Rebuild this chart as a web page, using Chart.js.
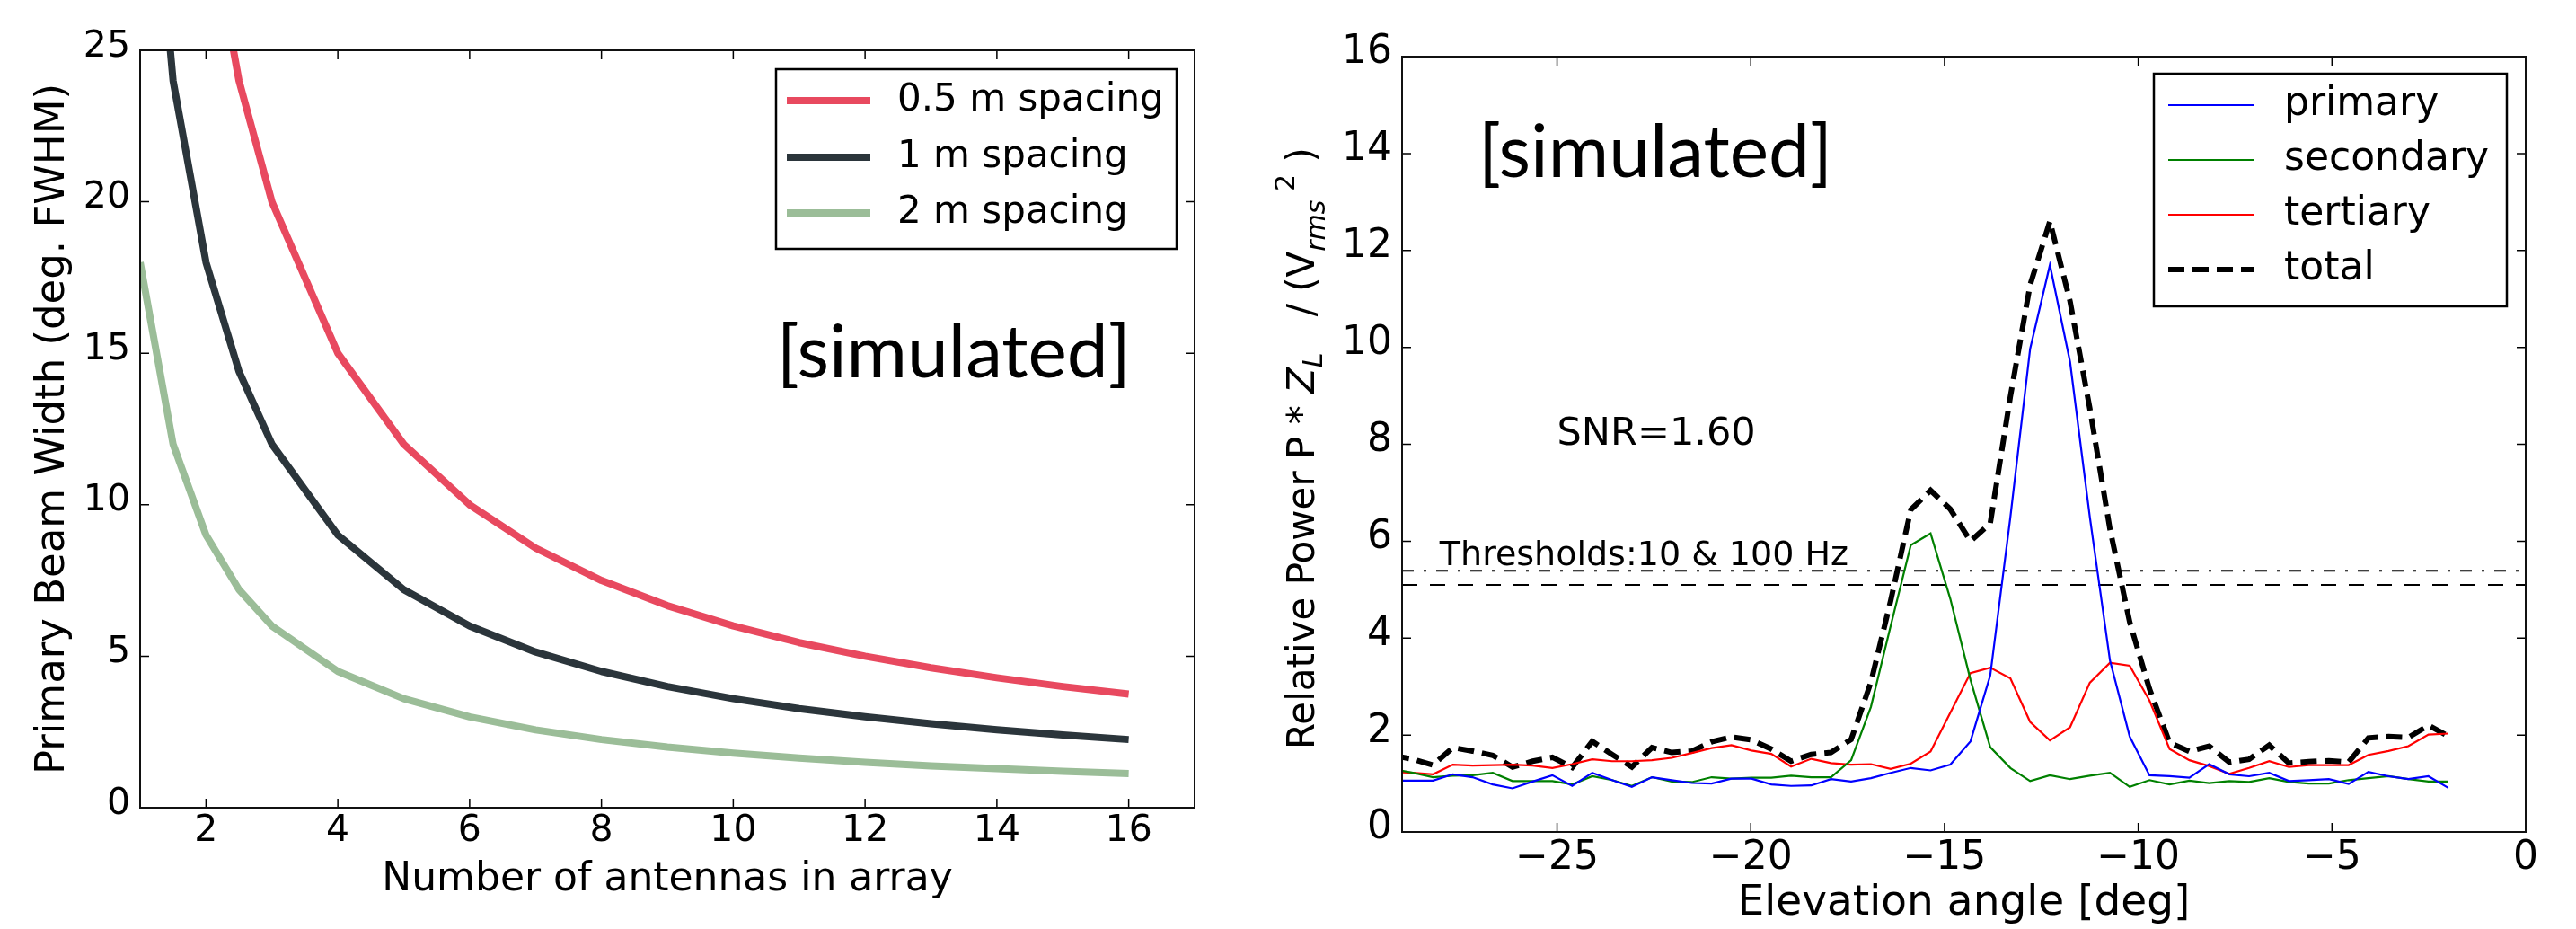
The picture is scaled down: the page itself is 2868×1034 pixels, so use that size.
<!DOCTYPE html>
<html><head><meta charset="utf-8">
<script src="https://cdn.jsdelivr.net/npm/chart.js@4.4.0/dist/chart.umd.min.js"></script>
<style>
html,body{margin:0;padding:0;background:#fff;width:2868px;height:1034px;overflow:hidden;}
#c1{position:absolute;left:0;top:0;}
#c2{position:absolute;left:1400px;top:0;}
</style></head><body>
<canvas id="c1" width="1400" height="1034"></canvas>
<canvas id="c2" width="1468" height="1034"></canvas>
<script>
// ---------- Left panel data ----------
const antennas = [1,1.5,2,2.5,3,4,5,6,7,8,9,10,11,12,13,14,15,16];
const spacing05 = [60,40,30,24,20,15,12,10,8.57,7.5,6.67,6,5.45,5,4.62,4.29,4,3.75];
const spacing1  = [36,24,18,14.4,12,9,7.2,6,5.14,4.5,4,3.6,3.27,3,2.77,2.57,2.4,2.25];
const spacing2  = [18,12,9,7.2,6,4.5,3.6,3,2.57,2.25,2,1.8,1.64,1.5,1.38,1.29,1.2,1.13];
const leftLabels = ['0.5 m spacing','1 m spacing','2 m spacing'];
const leftXTicks = [2,4,6,8,10,12,14,16];
const leftYTicks = [0,5,10,15,20,25];

// ---------- Right panel data ----------
const elevation = [-29.23,-28.72,-28.20,-27.69,-27.18,-26.66,-26.15,-25.63,-25.12,-24.61,
  -24.09,-23.58,-23.07,-22.55,-22.04,-21.52,-21.01,-20.50,-19.98,-19.47,
  -18.96,-18.44,-17.93,-17.41,-16.90,-16.39,-15.87,-15.36,-14.85,-14.33,
  -13.82,-13.30,-12.79,-12.28,-11.76,-11.25,-10.73,-10.22,-9.71,-9.19,
  -8.68,-8.17,-7.65,-7.14,-6.62,-6.11,-5.60,-5.08,-4.57,-4.06,
  -3.54,-3.03,-2.51,-2.00];
const primary = [1.06,1.06,1.06,1.19,1.13,0.98,0.90,1.04,1.17,0.95,
  1.22,1.07,0.93,1.13,1.07,1.01,1.00,1.10,1.10,0.98,
  0.95,0.96,1.09,1.04,1.11,1.22,1.32,1.27,1.39,1.87,
  3.23,6.5,9.97,11.7,9.7,6.5,3.54,1.97,1.17,1.15,
  1.12,1.40,1.19,1.15,1.22,1.05,1.07,1.09,0.99,1.24,
  1.15,1.09,1.15,0.91];
const secondary = [1.30,1.22,1.13,1.16,1.17,1.22,1.05,1.05,1.05,0.98,
  1.15,1.07,0.95,1.13,1.04,1.03,1.13,1.10,1.12,1.12,
  1.16,1.13,1.13,1.48,2.58,4.25,5.92,6.16,4.81,3.14,
  1.75,1.32,1.05,1.17,1.09,1.16,1.22,0.93,1.07,0.98,
  1.06,1.01,1.05,1.03,1.11,1.03,1.00,1.00,1.07,1.11,
  1.15,1.09,1.04,1.04];
const tertiary = [1.24,1.22,1.19,1.39,1.37,1.38,1.39,1.37,1.32,1.40,
  1.50,1.46,1.46,1.48,1.53,1.63,1.73,1.79,1.68,1.61,
  1.35,1.51,1.42,1.39,1.40,1.30,1.41,1.66,2.46,3.28,
  3.39,3.17,2.27,1.89,2.16,3.08,3.49,3.43,2.71,1.71,
  1.48,1.36,1.20,1.32,1.46,1.34,1.38,1.38,1.38,1.59,
  1.67,1.77,2.01,2.03];
const total = [1.58,1.50,1.38,1.74,1.67,1.58,1.34,1.46,1.54,1.33,
  1.87,1.60,1.34,1.74,1.64,1.67,1.86,1.96,1.90,1.71,
  1.46,1.60,1.64,1.91,3.09,4.77,6.65,7.05,6.66,6.00,
  6.37,8.99,11.29,12.6,10.95,8.74,6.25,4.33,2.95,1.84,
  1.66,1.77,1.44,1.50,1.79,1.42,1.45,1.47,1.44,1.94,
  1.97,1.95,2.20,1.98];
const thresholdX = [-29, 0];
const threshold10Hz = [5.39, 5.39];
const threshold100Hz = [5.10, 5.10];
const rightLabels = ['primary','secondary','tertiary','total'];
const rightXTicks = [-25,-20,-15,-10,-5,0];
const rightXTickLabels = ['\u221225','\u221220','\u221215','\u221210','\u22125','0'];
const rightYTicks = [0,2,4,6,8,10,12,14,16];

// ---------- helpers ----------
const pts = (xs, ys) => xs.map((x, i) => ({x: x, y: ys[i]}));
const SANS = "'DejaVu Sans', sans-serif";
const CAL = "Lato, 'Open Sans', sans-serif";

const framePlugin = {
  id: 'frame',
  afterDatasetsDraw(chart, args, o) {
    const {ctx, chartArea: a, scales: {x, y}} = chart;
    ctx.save();
    ctx.strokeStyle = '#000';
    ctx.lineWidth = o.tickWidth;
    const L = o.tickLen;
    ctx.beginPath();
    x.ticks.forEach(t => {
      const p = x.getPixelForValue(t.value);
      ctx.moveTo(p, a.bottom); ctx.lineTo(p, a.bottom - L);
      ctx.moveTo(p, a.top); ctx.lineTo(p, a.top + L);
    });
    y.ticks.forEach(t => {
      const p = y.getPixelForValue(t.value);
      ctx.moveTo(a.left, p); ctx.lineTo(a.left + L, p);
      ctx.moveTo(a.right, p); ctx.lineTo(a.right - L, p);
    });
    ctx.stroke();
    ctx.lineWidth = o.frameWidth;
    ctx.strokeStyle = o.frameColor;
    ctx.strokeRect(a.left, a.top, a.right - a.left, a.bottom - a.top);
    ctx.restore();
  }
};

const boxLegend = {
  id: 'boxLegend',
  afterDraw(chart, args, o) {
    const {ctx} = chart;
    ctx.save();
    ctx.fillStyle = '#fff';
    ctx.fillRect(o.x, o.y, o.w, o.h);
    ctx.lineWidth = 2.5; ctx.strokeStyle = '#000';
    ctx.strokeRect(o.x, o.y, o.w, o.h);
    o.rows.forEach((ry, i) => {
      const ds = chart.data.datasets[i];
      ctx.save();
      ctx.strokeStyle = ds.borderColor;
      ctx.lineWidth = ds.borderWidth;
      ctx.setLineDash(ds.borderDash || []);
      ctx.lineCap = 'butt';
      ctx.beginPath(); ctx.moveTo(o.lx0, ry); ctx.lineTo(o.lx1, ry); ctx.stroke();
      ctx.restore();
      ctx.fillStyle = '#000';
      ctx.font = o.font;
      ctx.textBaseline = 'middle';
      ctx.textAlign = 'left';
      ctx.fillText(ds.label, o.tx, ry);
    });
    ctx.restore();
  }
};

const notes = {
  id: 'notes',
  afterDraw(chart, args, o) {
    const {ctx, scales: {x, y}} = chart;
    ctx.save();
    (o.items || []).forEach(it => {
      ctx.font = it.font; ctx.fillStyle = '#000';
      ctx.textAlign = it.align || 'left';
      ctx.textBaseline = it.baseline || 'alphabetic';
      ctx.fillText(it.text, x.getPixelForValue(it.x), y.getPixelForValue(it.y));
    });
    ctx.restore();
  }
};

const mathTitle = {
  id: 'mathTitle',
  afterDraw(chart, args, o) {
    if (!o.pieces) return;
    const {ctx} = chart;
    ctx.save();
    ctx.translate(o.x, o.y);
    ctx.rotate(-Math.PI / 2);
    ctx.fillStyle = '#000';
    ctx.textBaseline = 'alphabetic';
    let cx = 0;
    o.pieces.forEach(p => {
      ctx.font = p.f;
      ctx.fillText(p.t, cx, p.dy);
      cx += ctx.measureText(p.t).width;
    });
    ctx.restore();
  }
};

// ---------- Left chart ----------
new Chart(document.getElementById('c1'), {
  type: 'line',
  data: {
    datasets: [
      {label: leftLabels[0], data: pts(antennas, spacing05), borderColor: '#e8495f', borderWidth: 8},
      {label: leftLabels[1], data: pts(antennas, spacing1), borderColor: '#2b353b', borderWidth: 8},
      {label: leftLabels[2], data: pts(antennas, spacing2), borderColor: '#9bbd98', borderWidth: 8}
    ]
  },
  options: {
    responsive: false, animation: false, devicePixelRatio: 1,
    layout: {padding: {left: 0, right: 70, top: 56, bottom: 0}},
    elements: {point: {radius: 0}, line: {tension: 0, borderJoinStyle: 'round', borderCapStyle: 'butt'}},
    plugins: {
      legend: {display: false}, tooltip: {enabled: false},
      frame: {tickLen: 10, tickWidth: 1.5, frameWidth: 2, frameColor: '#111'},
      boxLegend: {x: 864, y: 77, w: 446, h: 200, lx0: 876, lx1: 969, tx: 999, rows: [112, 175, 237], font: "42px " + SANS},
      notes: {items: [{text: '[simulated]', x: 10.66, y: 15.0, font: '82px ' + CAL, baseline: 'middle'}]}
    },
    scales: {
      x: {
        type: 'linear', min: 1, max: 17,
        afterBuildTicks: s => { s.ticks = leftXTicks.map(v => ({value: v})); },
        afterFit: s => { s.height = 135; },
        grid: {display: false, drawTicks: false}, border: {display: false},
        ticks: {padding: 2, color: '#000', font: {size: 41, family: SANS}},
        title: {display: true, text: 'Number of antennas in array', color: '#000', font: {size: 44, family: SANS}, padding: {top: 0, bottom: 28}}
      },
      y: {
        type: 'linear', min: 0, max: 25,
        afterBuildTicks: s => { s.ticks = leftYTicks.map(v => ({value: v})); },
        afterFit: s => { s.width = 156; },
        grid: {display: false, drawTicks: false}, border: {display: false},
        ticks: {padding: 11, labelOffset: -4, color: '#000', font: {size: 41, family: SANS}},
        title: {display: true, text: 'Primary Beam Width (deg. FWHM)', color: '#000', font: {size: 45, family: SANS}, padding: {top: 32, bottom: 0}}
      }
    }
  },
  plugins: [framePlugin, notes, boxLegend]
});

// ---------- Right chart ----------
new Chart(document.getElementById('c2'), {
  type: 'line',
  data: {
    datasets: [
      {label: rightLabels[0], data: pts(elevation, primary), borderColor: '#0000ff', borderWidth: 2.2},
      {label: rightLabels[1], data: pts(elevation, secondary), borderColor: '#008000', borderWidth: 2.2},
      {label: rightLabels[2], data: pts(elevation, tertiary), borderColor: '#ff0000', borderWidth: 2.2},
      {label: rightLabels[3], data: pts(elevation, total), borderColor: '#000000', borderWidth: 6, borderDash: [18, 9]},
      {label: 'threshold 10 Hz', data: pts(thresholdX, threshold10Hz), borderColor: '#000', borderWidth: 2, borderDash: [13, 11, 3, 11]},
      {label: 'threshold 100 Hz', data: pts(thresholdX, threshold100Hz), borderColor: '#000', borderWidth: 2, borderDash: [17, 14]}
    ]
  },
  options: {
    responsive: false, animation: false, devicePixelRatio: 1,
    layout: {padding: {left: 0, right: 56, top: 63, bottom: 0}},
    elements: {point: {radius: 0}, line: {tension: 0, borderJoinStyle: 'miter', borderCapStyle: 'butt'}},
    plugins: {
      legend: {display: false}, tooltip: {enabled: false},
      frame: {tickLen: 10, tickWidth: 1.5, frameWidth: 2, frameColor: '#111'},
      boxLegend: {x: 998, y: 82, w: 393, h: 259, lx0: 1014, lx1: 1109, tx: 1143, rows: [117, 178, 239, 300], font: "44px " + SANS},
      notes: {items: [
        {text: '[simulated]', x: -27.03, y: 14.0, font: '82px ' + CAL, baseline: 'middle'},
        {text: 'SNR=1.60', x: -25.0, y: 8.0, font: '43px ' + SANS},
        {text: 'Thresholds:10 & 100 Hz', x: -28.03, y: 5.51, font: '38px ' + SANS}
      ]},
      mathTitle: {x: 63, y: 834, pieces: [
        {t: 'Relative Power P * ', f: '42px ' + SANS, dy: 0},
        {t: 'Z', f: 'italic 42px ' + SANS, dy: 0},
        {t: 'L', f: 'italic 30px ' + SANS, dy: 9},
        {t: '   / (V', f: '42px ' + SANS, dy: 0},
        {t: 'rms', f: 'italic 30px ' + SANS, dy: 12},
        {t: ' 2', f: '30px ' + SANS, dy: -22},
        {t: ' )', f: '42px ' + SANS, dy: 0}
      ]}
    },
    scales: {
      x: {
        type: 'linear', min: -29, max: 0,
        afterBuildTicks: s => { s.ticks = rightXTicks.map(v => ({value: v})); },
        afterFit: s => { s.height = 108; },
        grid: {display: false, drawTicks: false}, border: {display: false},
        ticks: {padding: 3, color: '#000', font: {size: 44, family: SANS},
          callback: (v) => rightXTickLabels[rightXTicks.indexOf(v)]},
        title: {display: true, text: 'Elevation angle [deg]', color: '#000', font: {size: 47, family: SANS}, padding: {top: 0, bottom: 0}}
      },
      y: {
        type: 'linear', min: 0, max: 16,
        afterBuildTicks: s => { s.ticks = rightYTicks.map(v => ({value: v})); },
        afterFit: s => { s.width = 161; },
        grid: {display: false, drawTicks: false}, border: {display: false},
        ticks: {padding: 11, labelOffset: -4, color: '#000', font: {size: 44, family: SANS}},
        title: {display: false}
      }
    }
  },
  plugins: [framePlugin, notes, boxLegend, mathTitle]
});
</script>
</body></html>
